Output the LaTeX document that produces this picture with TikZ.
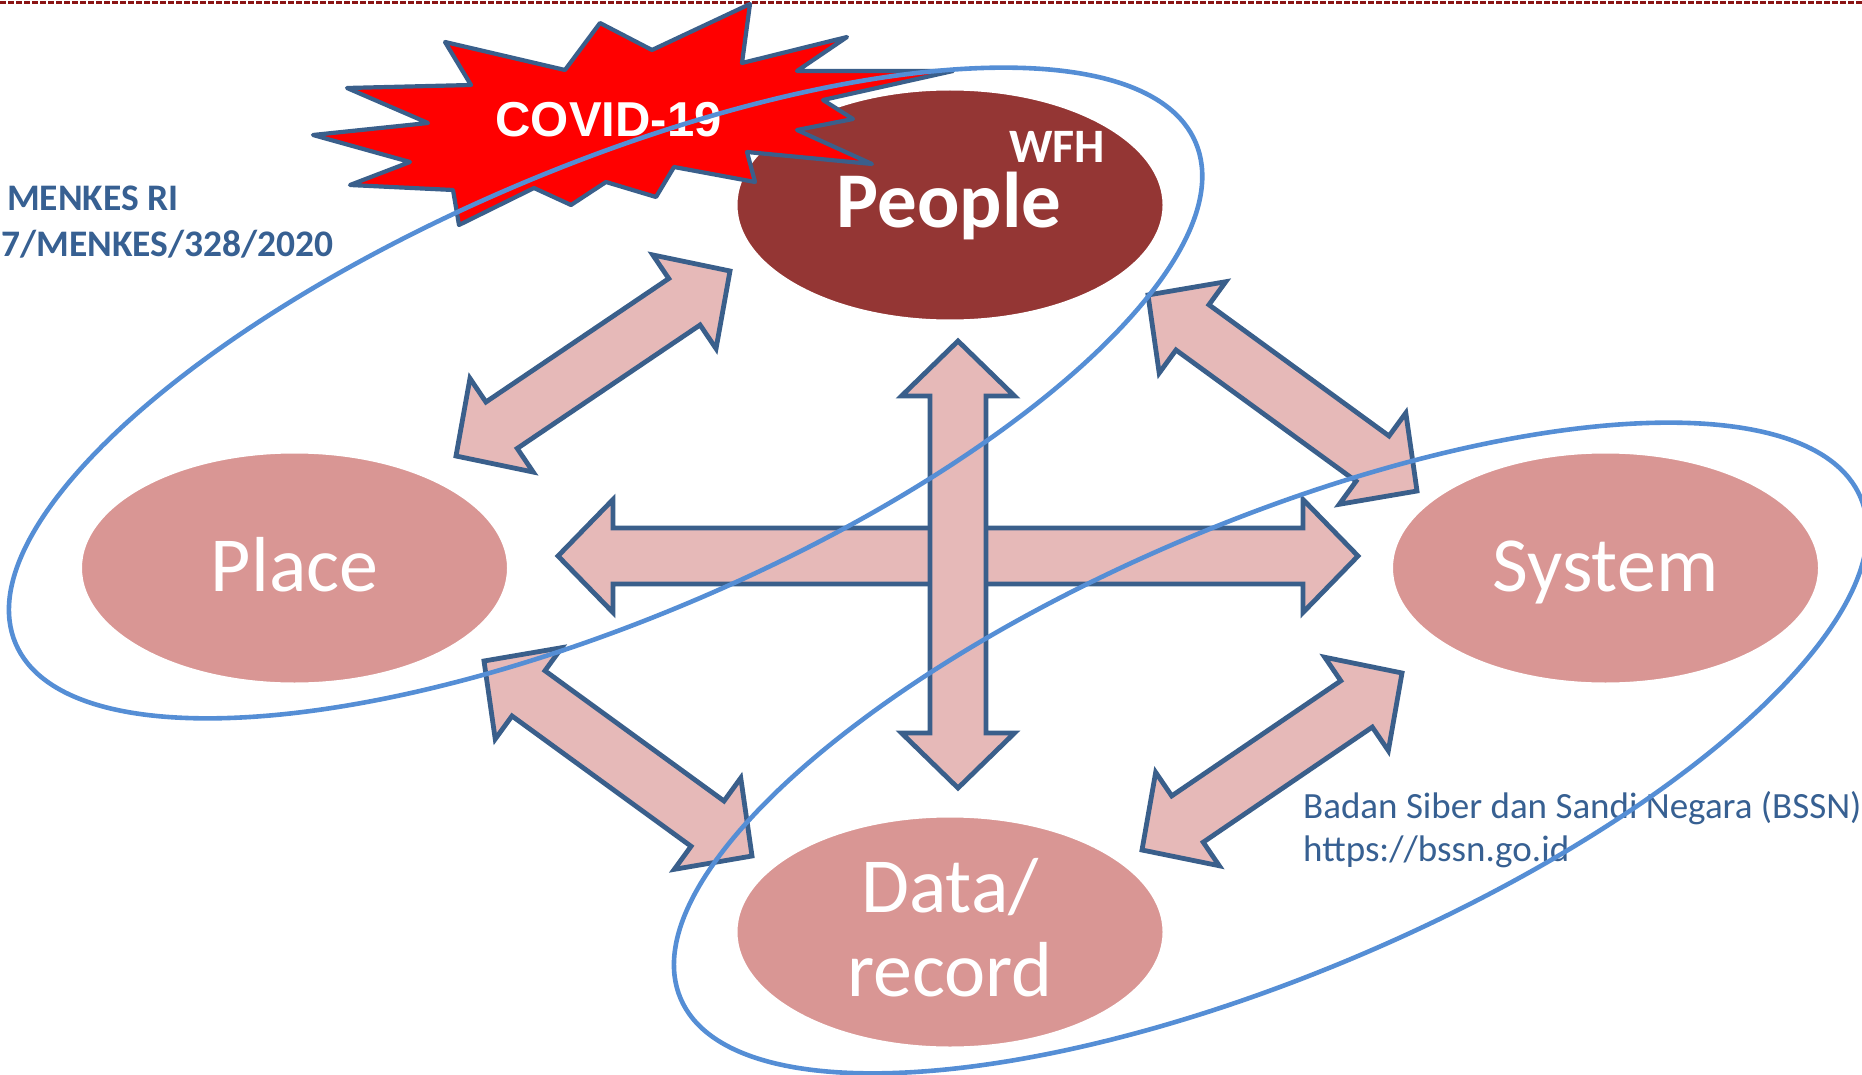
\documentclass[tikz,border=0pt]{standalone}
\usepackage{fontspec}
\setmainfont{Carlito}
\newfontfamily\covidfont{Liberation Sans}
\usetikzlibrary{calc,shapes.geometric}

\definecolor{peoplered}{HTML}{943634}
\definecolor{rosefill}{HTML}{D99694}
\definecolor{arrowfill}{HTML}{E6B9B8}
\definecolor{navyline}{HTML}{3A5F8B}
\definecolor{loopblue}{HTML}{558ED5}
\definecolor{labelblue}{HTML}{376092}
\definecolor{rulered}{HTML}{8B1414}

\tikzset{
  topic/.style={ellipse, minimum width=428pt, minimum height=232pt, inner sep=0pt,
    draw=white, line width=3pt},
  toplabel/.style={text=white, inner sep=0pt, anchor=base,
    font=\fontsize{78}{85}\selectfont},
  blockarrow/.style={draw=navyline, fill=arrowfill, line width=4.8pt},
  starburst/.style={draw=navyline, fill=red, line width=4.2pt, line join=round},
  bluering/.style={draw=loopblue, line width=4.6pt},
  sidenote/.style={text=labelblue, inner sep=0pt},
  dashline/.style={draw=rulered, line width=3pt, dash pattern=on 6pt off 2pt}
}

% double-headed block arrow between two tip coordinates
\newcommand\dblarrow[2]{%
  \draw[blockarrow] (#1)
    -- ($(#1)!55pt!(#2)!56.5pt!90:(#2)$)
    -- ($(#1)!55pt!(#2)!28pt!90:(#2)$)
    -- ($(#2)!55pt!(#1)!28pt!-90:(#1)$)
    -- ($(#2)!55pt!(#1)!56.5pt!-90:(#1)$)
    -- (#2)
    -- ($(#2)!55pt!(#1)!56.5pt!90:(#1)$)
    -- ($(#2)!55pt!(#1)!28pt!90:(#1)$)
    -- ($(#1)!55pt!(#2)!28pt!-90:(#2)$)
    -- ($(#1)!55pt!(#2)!56.5pt!-90:(#2)$)
    -- cycle;}

\begin{document}
\begin{tikzpicture}[x=1pt,y=-1pt]
\useasboundingbox (0,0) rectangle (1862,1075);
\clip (0,0) rectangle (1862,1075);

% dashed rule along the top
\draw[dashline] (0,2.5) -- (1862,2.5);

% the four topics
\node[topic, fill=peoplered] (people) at (950,205) {};
\node[topic, fill=rosefill] (place) at (294.5,568) {};
\node[topic, fill=rosefill] (system) at (1605.5,568) {};
\node[topic, fill=rosefill] (data) at (950,932) {};

% arrow tips
\coordinate (hl) at (558,556);
\coordinate (hr) at (1358,556);
\coordinate (vt) at (958,341);
\coordinate (vb) at (958,788);
\coordinate (a1) at (456,456);
\coordinate (b1) at (730,271);
\coordinate (a2) at (1148,295);
\coordinate (b2) at (1417,491);
\coordinate (a3) at (484,661);
\coordinate (b3) at (752,856);
\coordinate (a4) at (1402,673);
\coordinate (b4) at (1142,850);

\dblarrow{hl}{hr}
\dblarrow{vt}{vb}
\dblarrow{a1}{b1}
\dblarrow{a2}{b2}
\dblarrow{a3}{b3}
\dblarrow{a4}{b4}

% COVID-19 burst
\draw[starburst] (445,42) -- (565,70) -- (600,23) -- (652,50) -- (750,4)
  -- (742,63) -- (847,37) -- (797,71) -- (953,71) -- (823,100) -- (853,119)
  -- (797,130) -- (872,164) -- (747,152) -- (755,182) -- (674,167) -- (656,197)
  -- (606,182) -- (571,205) -- (534,188) -- (459,225) -- (453,190) -- (350,185)
  -- (410,162) -- (313,135) -- (428,123) -- (347,88) -- (471,85) -- cycle;
\node[text=white, inner sep=0pt, anchor=base,
  font=\covidfont\bfseries\fontsize{49}{52}\selectfont] (covid) at (608.5,137) {COVID-19};

% topic labels
\node[toplabel, font=\bfseries\fontsize{79}{85}\selectfont] (peoplelbl) at (949,228) {People};
\node[text=white, inner sep=0pt, anchor=base west,
  font=\bfseries\fontsize{48}{50}\selectfont] (wfh) at (1009,163) {WFH};
\node[toplabel] (placelbl) at (294.5,591) {Place};
\node[toplabel] (systemlbl) at (1605.5,591) {System};
\node[toplabel] (datalbl) at (950,912) {Data/};
\node[toplabel] (recordlbl) at (950,996) {record};

% side notes
\node[sidenote, anchor=base west, font=\bfseries\fontsize{37.5}{40}\selectfont] (kmk1) at (7,211) {MENKES RI};
\node[sidenote, anchor=base west, font=\bfseries\fontsize{37.5}{40}\selectfont] (kmk2) at (1,257) {7/MENKES/328/2020};
\node[sidenote, anchor=base west, font=\fontsize{37}{40}\selectfont] (bssn1) at (1303,818) {Badan Siber dan Sandi Negara (BSSN)};
\node[sidenote, anchor=base west, font=\fontsize{37}{40}\selectfont] (bssn2) at (1303,861) {https://bssn.go.id};

% grouping rings
\draw[bluering, rotate around={23:(605.6,393)}] (605.6,393) ellipse [x radius=641, y radius=225.6];
\draw[bluering, rotate around={23:(1270.6,748)}] (1270.6,748) ellipse [x radius=641, y radius=225.6];
\end{tikzpicture}
\end{document}
